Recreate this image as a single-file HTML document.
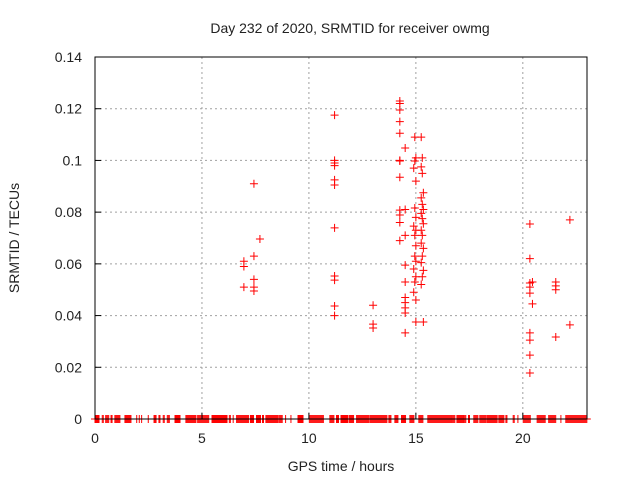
<!DOCTYPE html>
<html><head><meta charset="utf-8"><style>
body{margin:0;background:#fff}
svg text{font-family:"Liberation Sans",sans-serif;font-size:14px;fill:#222}
</style></head><body>
<svg id="chart" width="640" height="480" viewBox="0 0 640 480" xmlns="http://www.w3.org/2000/svg">
<rect width="640" height="480" fill="#fff"/>
<text x="350" y="33" text-anchor="middle">Day 232 of 2020, SRMTID for receiver owmg</text>
<text x="341" y="471" text-anchor="middle">GPS time / hours</text>
<text x="19" y="238" text-anchor="middle" transform="rotate(-90 19 238)">SRMTID / TECUs</text>
<g id="grid"></g>
<g id="marks"></g>
<rect x="95" y="57" width="492" height="362" fill="none" stroke="#000" stroke-width="1"/>
<g id="axes"></g>
</svg>
<script>
const xTicks=[0,5,10,15,20];
const yTicks=[0,0.02,0.04,0.06,0.08,0.1,0.12,0.14];
const yTickLabels=["0","0.02","0.04","0.06","0.08","0.1","0.12","0.14"];
const zeroSegments=[[0,0.23],[0.34,0.42],[0.5,0.67],[0.75,0.83],[0.93,1.2],[1.4,1.71],[1.95,1.95],[2.07,2.07],[2.18,2.18],[2.49,2.49],[2.76,2.88],[2.99,3.08],[3.19,3.27],[3.38,3.5],[3.74,4.02],[4.25,4.75],[4.8,5.33],[5.47,6.18],[6.28,6.34],[6.46,6.46],[6.62,7.2],[7.27,7.45],[7.55,7.76],[7.83,7.91],[7.99,8.57],[8.61,8.77],[8.91,8.91],[9.16,9.16],[9.49,9.77],[10.02,10.7],[10.98,11.21],[11.29,11.39],[11.5,11.84],[11.9,12.12],[12.23,12.8],[12.85,13.68],[13.74,13.86],[14.02,14.2],[14.33,14.53],[14.72,14.91],[15.14,15.34],[15.56,16.64],[16.68,16.82],[16.92,17.21],[17.24,17.34],[17.46,17.54],[17.71,17.91],[17.99,18.3],[18.33,18.8],[18.88,19.13],[19.21,19.3],[19.55,19.63],[19.77,19.77],[20.02,20.37],[20.67,21.07],[21.21,21.54],[21.78,21.78],[22.01,23.0]];
const ptHours=[6.96,6.96,6.96,7.43,7.43,7.43,7.43,7.43,7.71,
11.2,11.2,11.2,11.2,11.2,11.2,11.2,11.2,11.2,11.2,11.2,
13.0,13.0,13.0,
14.25,14.25,14.25,14.25,14.25,14.25,14.25,14.25,14.25,14.25,14.25,14.25,
14.5,14.5,14.5,14.5,14.5,14.5,14.5,14.5,14.5,14.5,
14.95,15.0,14.95,14.9,15.0,14.95,15.0,14.9,15.0,14.95,15.0,14.95,15.0,14.9,15.0,14.95,14.9,15.0,15.0,
15.25,15.3,15.25,15.3,15.35,15.25,15.3,15.35,15.25,15.3,15.35,15.25,15.3,15.25,15.35,15.3,15.25,15.35,15.3,15.25,15.35,
20.33,20.33,20.33,20.33,20.33,20.33,20.33,20.33,20.33,20.45,20.45,
21.54,21.54,21.54,21.54,22.2,22.2];
const ptValues=[0.061,0.059,0.051,0.091,0.063,0.054,0.051,0.0495,0.0696,
0.1175,0.100,0.099,0.098,0.0925,0.0905,0.0739,0.0553,0.0537,0.0437,0.040,
0.044,0.0367,0.0352,
0.123,0.122,0.1195,0.115,0.1105,0.100,0.0998,0.0935,0.0808,0.0789,0.076,0.069,
0.1048,0.081,0.071,0.0595,0.053,0.047,0.045,0.043,0.041,0.0333,
0.109,0.101,0.0998,0.097,0.092,0.0816,0.078,0.0746,0.073,0.071,0.067,0.063,0.061,0.058,0.055,0.053,0.049,0.046,0.0375,
0.109,0.101,0.0975,0.095,0.0875,0.0855,0.083,0.081,0.0795,0.0775,0.0755,0.073,0.071,0.068,0.066,0.063,0.0605,0.0575,0.055,0.052,0.0375,
0.0754,0.062,0.0526,0.051,0.0487,0.0333,0.0305,0.0247,0.0178,0.053,0.0445,
0.053,0.0515,0.050,0.0317,0.077,0.0364];
const NS="http://www.w3.org/2000/svg";
const X0=95,X1=587,Y0=419,Y1=57,XMAX=23,YMAX=0.14;
function sx(h){return X0+h/XMAX*(X1-X0);}
function sy(v){return Y0-v/YMAX*(Y0-Y1);}
const grid=document.getElementById('grid'),axes=document.getElementById('axes'),marks=document.getElementById('marks');
function mk(tag,attrs,parent){const e=document.createElementNS(NS,tag);for(const k in attrs)e.setAttribute(k,attrs[k]);parent.appendChild(e);return e;}
xTicks.forEach(t=>{const x=sx(t);
 if(t>0){const g=mk('line',{x1:x,x2:x,y1:Y1,y2:Y0,stroke:'#a0a0a0','stroke-dasharray':'2,3'},grid);
 
 }
 const tk=mk('line',{x1:x,x2:x,y1:Y0,y2:Y0-6,stroke:'#000'},axes);
 
 
 const tx=mk('text',{x:x,y:443,'text-anchor':'middle'},axes);tx.textContent=t;
 
 
});
yTicks.forEach((t,i)=>{const y=sy(t);
 if(t>0&&t<YMAX){const g=mk('line',{x1:X0,x2:X1,y1:y,y2:y,stroke:'#a0a0a0','stroke-dasharray':'2,3'},grid);
 
 }
 const tk=mk('line',{x1:X0,x2:X0+6,y1:y,y2:y,stroke:'#000'},axes);
 
 
 const tx=mk('text',{x:82,y:y+5,'text-anchor':'end'},axes);tx.textContent=yTickLabels[i];
 
 
});
function plus(x,y,c){const p=mk('path',{d:`M${x-4},${y}h8M${x},${y-4}v8`,stroke:c,'stroke-width':1},marks);
 
 }
zeroSegments.forEach(s=>{const a=sx(s[0]),b=sx(s[1]);for(let x=a;x<=b+0.01;x+=1)plus(x,Y0,'#ff0000');});
ptHours.forEach((h,i)=>plus(sx(h),sy(ptValues[i]),'#ff0000'));
</script>
</body></html>
